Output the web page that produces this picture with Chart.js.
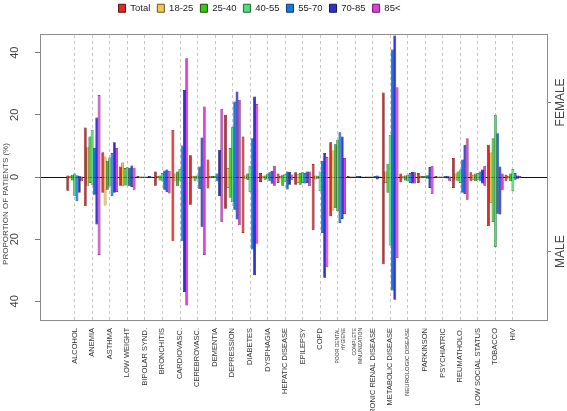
<!DOCTYPE html>
<html>
<head>
<meta charset="utf-8">
<script src="https://cdn.jsdelivr.net/npm/chart.js@4.4.1/dist/chart.umd.min.js"></script>
<style>
  html, body { margin: 0; padding: 0; background: #fff; }
  #wrap { width: 567px; height: 411px; }
</style>
</head>
<body>
<div id="wrap"><canvas id="chart"></canvas></div>
<script>
// categories, left to right
const categories = [
  'ALCOHOL', 'ANEMIA', 'ASTHMA', 'LOW WEIGHT', 'BIPOLAR SYND.', 'BRONCHITIS',
  'CARDIOVASC.', 'CEREBROVASC.', 'DEMENTIA', 'DEPRESSION', 'DIABETES', 'DYSPHAGIA',
  'HEPATIC DISEASE', 'EPILEPSY', 'COPD', 'POOR DENTAL\nHYGIENE', 'COMPLETE\nIMMUNIZATION',
  'CHRONIC RENAL DISEASE', 'METABOLIC DISEASE', 'NEUROLOGIC DISEASE', 'PARKINSON',
  'PSYCHIATRIC', 'REUMATHOLO.', 'LOW SOCIAL STATUS', 'TOBACCO', 'HIV'
];
const seriesNames = ['Total', '18-25', '25-40', '40-55', '55-70', '70-85', '85<'];

// % of female patients (drawn upwards)
const femaleTotal = [0.5, 15.9, 8.0, 3.4, 0.3, 1.8, 15.2, 7.0, 5.6, 20.0, 13.0, 1.3, 1.1, 1.5, 4.2, 11.2, 0.3, 0.2, 27.2, 1.1, 1.3, 0.3, 6.1, 1.5, 10.4, 0.7];
const female18 = [0.3, 9.6, 6.6, 4.7, 0.2, 0.3, 1.1, 0.4, 0.3, 2.9, 0.5, 0.4, 0.3, 1.0, 0.5, 8.5, 0.2, 0.2, 1.8, 0.4, 0.3, 0.2, 1.1, 0.7, 7.9, 0.3];
const female25 = [0.7, 13.0, 5.2, 2.9, 0.2, 0.5, 1.8, 0.4, 0.3, 9.3, 1.1, 0.5, 0.7, 1.3, 0.4, 10.5, 0.2, 0.2, 4.3, 0.5, 0.3, 0.2, 1.8, 1.1, 12.5, 1.1];
const female40 = [1.1, 15.2, 6.3, 3.1, 0.2, 1.3, 2.6, 0.5, 0.3, 16.0, 3.6, 1.0, 1.0, 1.5, 1.8, 12.0, 0.2, 0.2, 13.6, 0.7, 0.3, 0.2, 2.4, 1.3, 20.0, 2.6];
const female55 = [0.6, 9.3, 7.7, 3.0, 0.2, 2.1, 10.1, 3.4, 1.1, 24.3, 12.5, 1.5, 1.8, 1.3, 5.2, 14.4, 0.3, 0.3, 41.0, 1.3, 0.6, 0.3, 5.6, 1.8, 14.1, 1.3];
const female70 = [0.4, 19.1, 11.2, 3.7, 0.3, 2.4, 28.0, 12.7, 8.8, 27.5, 25.9, 2.0, 1.7, 1.8, 7.7, 13.0, 0.3, 0.5, 45.5, 1.6, 3.2, 0.4, 10.4, 2.4, 3.4, 0.5];
const female85 = [0.2, 26.4, 9.3, 3.0, 0.2, 2.0, 38.2, 22.7, 21.9, 24.8, 23.5, 3.6, 0.8, 1.8, 6.4, 6.1, 0.2, 0.2, 28.9, 1.5, 3.6, 0.2, 12.5, 3.6, 1.1, 0.3];

// % of male patients (drawn downwards)
const maleTotal = [4.4, 9.4, 5.1, 2.8, 0.3, 2.8, 20.7, 8.9, 3.7, 10.2, 18.0, 1.6, 1.9, 2.5, 17.1, 12.6, 0.3, 0.2, 28.1, 1.7, 1.9, 0.3, 3.5, 1.4, 15.8, 1.4];
const male18 = [0.5, 3.0, 9.2, 2.8, 0.3, 0.3, 1.4, 0.5, 0.4, 3.5, 0.6, 0.5, 0.5, 1.9, 0.8, 10.8, 0.2, 0.2, 1.9, 0.5, 0.4, 0.3, 1.1, 0.9, 8.3, 0.5];
const male25 = [1.1, 1.9, 4.1, 2.7, 0.3, 1.1, 3.0, 1.4, 0.4, 6.7, 0.9, 0.9, 2.8, 2.5, 0.6, 10.0, 0.2, 0.2, 5.1, 1.1, 0.4, 0.3, 1.4, 1.4, 14.5, 1.4];
const male40 = [6.0, 2.5, 3.0, 2.7, 0.3, 1.4, 1.4, 0.6, 0.4, 8.1, 4.9, 0.6, 1.5, 1.9, 4.6, 11.0, 0.2, 0.2, 22.0, 1.4, 0.4, 0.3, 1.9, 0.9, 22.5, 4.6];
const male55 = [7.8, 5.7, 6.2, 3.0, 0.3, 4.1, 20.7, 3.9, 1.4, 10.5, 23.3, 1.4, 4.0, 2.1, 18.0, 14.8, 0.3, 0.3, 36.5, 1.9, 0.6, 0.4, 5.1, 1.4, 11.8, 0.9];
const male70 = [5.1, 15.3, 5.1, 3.2, 0.3, 4.9, 37.0, 16.0, 6.2, 13.7, 31.6, 2.2, 2.5, 1.9, 32.4, 13.5, 0.3, 0.8, 39.5, 2.1, 3.5, 0.5, 5.5, 2.1, 12.1, 0.6];
const male85 = [1.4, 25.1, 4.8, 4.1, 0.3, 5.3, 41.3, 25.1, 14.5, 15.5, 21.5, 2.8, 1.0, 3.0, 29.0, 11.9, 0.2, 0.2, 26.1, 2.1, 5.5, 1.4, 7.3, 2.8, 4.3, 0.4];

const yTicks = [40, 20, 0, -20, -40];
const yTitle = 'PROPORTION OF PATIENTS (%)';
const sideLabels = ['FEMALE', 'MALE'];
const sideTicks = [24, -24];

const femaleSeries = [femaleTotal, female18, female25, female40, female55, female70, female85];
const maleSeries = [maleTotal, male18, male25, male40, male55, male70, male85];

const fills = ['#e02828', '#ecc85a', '#3cc814', '#52dc7c', '#1878e0', '#3030cc', '#e040d8'];
const edges = ['#5a1010', '#6e5818', '#18520a', '#1e6a38', '#0a3a70', '#14145e', '#6a1866'];

const sans = "'Liberation Sans', Arial, sans-serif";
const xMin = -1.42, xMax = 26.39;

const datasets = seriesNames.map((name, s) => ({
  label: name,
  data: categories.map((c, i) => ({ x: i, y: [-maleSeries[s][i], femaleSeries[s][i]] })),
  backgroundColor: fills[s],
  borderColor: edges[s],
  borderWidth: 0.7,
  borderSkipped: false,
  categoryPercentage: 0.92,
  barPercentage: 1.25
}));

function drawUp(ctx, text, x, y) {
  ctx.save();
  ctx.translate(x, y);
  ctx.rotate(-Math.PI / 2);
  ctx.fillText(text, 0, 0);
  ctx.restore();
}

// rotated y labels, axis title and the FEMALE / MALE side labels
const sideText = {
  id: 'sideText',
  afterLayout(chart) {
    const lg = chart.legend;
    lg.left -= 24; lg.right -= 24;
    lg.top -= 11; lg.bottom -= 11;
  },
  afterDraw(chart) {
    const { ctx } = chart;
    const y = chart.scales.y, y2 = chart.scales.y2;
    ctx.save();
    ctx.textAlign = 'center';
    ctx.textBaseline = 'middle';
    ctx.fillStyle = '#444';
    ctx.font = '11px ' + sans;
    y.ticks.forEach(t => drawUp(ctx, String(Math.abs(t.value)), 15, y.getPixelForValue(t.value)));
    ctx.font = '8px ' + sans;
    drawUp(ctx, yTitle, 5.5, (y.top + y.bottom) / 2 + 27);
    ctx.font = '12px ' + sans;
    y2.ticks.forEach((t, i) => drawUp(ctx, sideLabels[i], 561, y2.getPixelForValue(t.value)));
    ctx.restore();
  }
};

new Chart(document.getElementById('chart'), {
  type: 'bar',
  data: { datasets },
  plugins: [sideText],
  options: {
    responsive: true,
    maintainAspectRatio: false,
    animation: false,
    layout: { padding: { top: 7.5 } },
    plugins: {
      tooltip: { enabled: false },
      legend: {
        position: 'top',
        labels: {
          boxWidth: 7,
          boxHeight: 8,
          padding: 7,
          color: '#222',
          font: { family: sans, size: 9.5 },
          generateLabels: chart => Chart.defaults.plugins.legend.labels.generateLabels(chart)
            .map(l => Object.assign(l, { lineWidth: 1 }))
        }
      }
    },
    scales: {
      x: {
        type: 'linear',
        position: 'bottom',
        min: xMin,
        max: xMax,
        afterBuildTicks: s => { s.ticks = categories.map((c, i) => ({ value: i })); },
        afterFit: s => { s.height = 91; },
        grid: { display: false, drawTicks: false },
        border: { display: true, color: '#8c8c8c' },
        ticks: {
          autoSkip: false,
          minRotation: 90,
          maxRotation: 90,
          padding: 8,
          color: '#333',
          font: ctx => ({ family: sans, size: (ctx.index === 15 || ctx.index === 16) ? 5 : (ctx.index === 19 ? 6 : 7.5) }),
          callback: (v, i) => categories[i] ? categories[i].split('\n') : ''
        }
      },
      x2: {
        type: 'linear',
        position: 'top',
        min: xMin,
        max: xMax,
        afterBuildTicks: s => { s.ticks = categories.slice(1).map((c, i) => ({ value: i + 0.5 })); },
        afterFit: s => { s.height = 0; },
        grid: { color: '#c4c4c4', lineWidth: 1, drawTicks: false },
        border: { display: true, color: '#8c8c8c', dash: [3, 3] },
        ticks: { display: false }
      },
      y: {
        min: -46,
        max: 46,
        z: 1,
        afterBuildTicks: s => { s.ticks = yTicks.map(v => ({ value: v })); },
        afterFit: s => { s.width = 40; },
        ticks: { display: false },
        grid: {
          color: ctx => (ctx.tick && ctx.tick.value === 0) ? '#111' : 'rgba(0,0,0,0)',
          tickColor: '#777',
          tickLength: 5,
          lineWidth: 1
        },
        border: { display: true, color: '#8c8c8c' }
      },
      y2: {
        position: 'right',
        min: -46,
        max: 46,
        afterBuildTicks: s => { s.ticks = sideTicks.map(v => ({ value: v })); },
        afterFit: s => { s.width = 20; },
        ticks: { display: false },
        grid: { drawOnChartArea: false, tickColor: '#777', tickLength: 4 },
        border: { display: true, color: '#8c8c8c' }
      }
    }
  }
});
</script>
</body>
</html>
